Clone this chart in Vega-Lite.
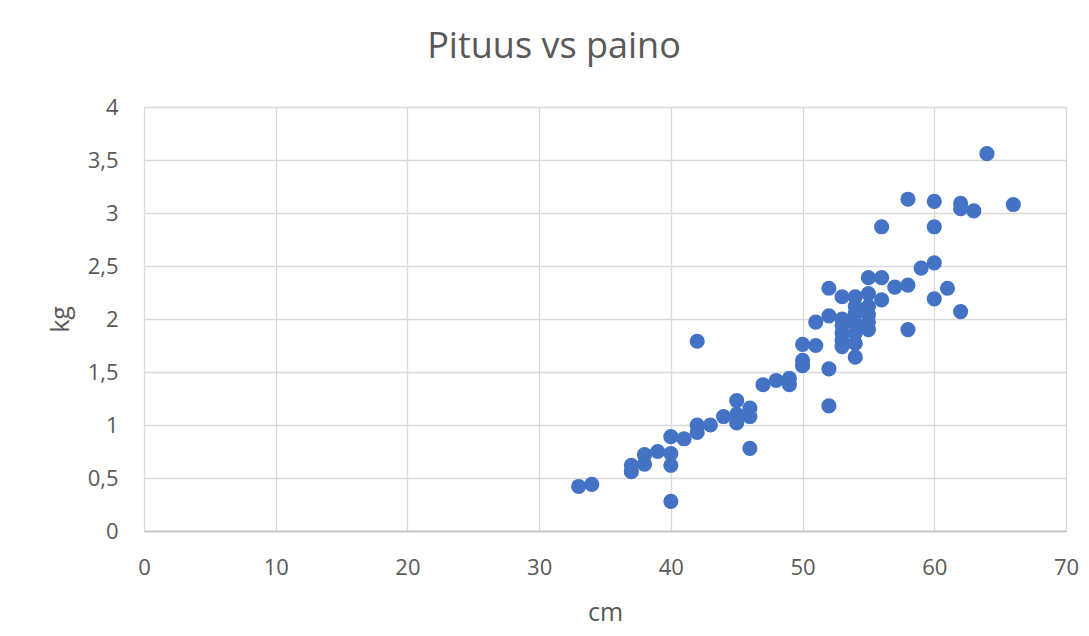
{
  "$schema": "https://vega.github.io/schema/vega-lite/v6.json",
  "autosize": {"type": "none"},
  "width": 922,
  "height": 424,
  "padding": {"left": 144, "top": 107, "right": 23, "bottom": 105},
  "background": "#ffffff",
  "title": {
    "text": "Pituus vs paino",
    "fontSize": 36,
    "font": "Open Sans",
    "fontWeight": "normal",
    "color": "#595959",
    "anchor": "middle",
    "dx": -51,
    "offset": 30
  },
  "data": {
    "values": [
      {"cm": 33, "kg": 0.42}, {"cm": 34, "kg": 0.44},
      {"cm": 37, "kg": 0.62}, {"cm": 37, "kg": 0.56},
      {"cm": 38, "kg": 0.72}, {"cm": 38, "kg": 0.63},
      {"cm": 39, "kg": 0.75},
      {"cm": 40, "kg": 0.89}, {"cm": 40, "kg": 0.73}, {"cm": 40, "kg": 0.62}, {"cm": 40, "kg": 0.28},
      {"cm": 41, "kg": 0.87},
      {"cm": 42, "kg": 1.79}, {"cm": 42, "kg": 1.0}, {"cm": 42, "kg": 0.93},
      {"cm": 43, "kg": 1.0},
      {"cm": 44, "kg": 1.08},
      {"cm": 45, "kg": 1.23}, {"cm": 45, "kg": 1.1}, {"cm": 45, "kg": 1.02},
      {"cm": 46, "kg": 1.16}, {"cm": 46, "kg": 1.08}, {"cm": 46, "kg": 0.78},
      {"cm": 47, "kg": 1.38},
      {"cm": 48, "kg": 1.42},
      {"cm": 49, "kg": 1.44}, {"cm": 49, "kg": 1.38},
      {"cm": 50, "kg": 1.76}, {"cm": 50, "kg": 1.61}, {"cm": 50, "kg": 1.56},
      {"cm": 51, "kg": 1.97}, {"cm": 51, "kg": 1.75},
      {"cm": 52, "kg": 2.29}, {"cm": 52, "kg": 2.03}, {"cm": 52, "kg": 1.53}, {"cm": 52, "kg": 1.18},
      {"cm": 53, "kg": 2.21}, {"cm": 53, "kg": 2.0}, {"cm": 53, "kg": 1.94}, {"cm": 53, "kg": 1.87}, {"cm": 53, "kg": 1.8}, {"cm": 53, "kg": 1.74},
      {"cm": 54, "kg": 2.21}, {"cm": 54, "kg": 2.12}, {"cm": 54, "kg": 2.05}, {"cm": 54, "kg": 1.96}, {"cm": 54, "kg": 1.87}, {"cm": 54, "kg": 1.77}, {"cm": 54, "kg": 1.64},
      {"cm": 55, "kg": 2.39}, {"cm": 55, "kg": 2.24}, {"cm": 55, "kg": 2.12}, {"cm": 55, "kg": 2.04}, {"cm": 55, "kg": 1.97}, {"cm": 55, "kg": 1.9},
      {"cm": 56, "kg": 2.87}, {"cm": 56, "kg": 2.39}, {"cm": 56, "kg": 2.18},
      {"cm": 57, "kg": 2.3},
      {"cm": 58, "kg": 3.13}, {"cm": 58, "kg": 2.32}, {"cm": 58, "kg": 1.9},
      {"cm": 59, "kg": 2.48},
      {"cm": 60, "kg": 3.11}, {"cm": 60, "kg": 2.87}, {"cm": 60, "kg": 2.53}, {"cm": 60, "kg": 2.19},
      {"cm": 61, "kg": 2.29},
      {"cm": 62, "kg": 3.09}, {"cm": 62, "kg": 3.04}, {"cm": 62, "kg": 2.07},
      {"cm": 63, "kg": 3.02},
      {"cm": 64, "kg": 3.56},
      {"cm": 66, "kg": 3.08}
    ]
  },
  "mark": {"type": "circle", "size": 230, "color": "#4472C4", "opacity": 1},
  "encoding": {
    "x": {
      "field": "cm", "type": "quantitative",
      "scale": {"domain": [0, 70], "nice": false, "zero": true},
      "axis": {
        "title": "cm", "values": [0, 10, 20, 30, 40, 50, 60, 70],
        "ticks": false, "labelPadding": 26, "titlePadding": 22, "labelFlush": false,
        "domainColor": "#bfbfbf", "domainWidth": 1.5
      }
    },
    "y": {
      "field": "kg", "type": "quantitative",
      "scale": {"domain": [0, 4], "nice": false},
      "axis": {
        "title": "kg", "values": [0, 0.5, 1, 1.5, 2, 2.5, 3, 3.5, 4],
        "format": ",.1~f", "ticks": false, "labelPadding": 26, "titlePadding": 14, "labelFlush": false,
        "domain": false
      }
    }
  },
  "config": {
    "locale": {"number": {"decimal": ",", "thousands": "\u00a0", "grouping": [3], "currency": ["", " €"]}},
    "view": {"stroke": null},
    "axis": {
      "labelFont": "Open Sans", "labelFontSize": 22, "labelColor": "#595959",
      "titleFont": "Open Sans", "titleFontSize": 25, "titleColor": "#595959", "titleFontWeight": "normal",
      "gridColor": "#d9d9d9", "gridWidth": 1.3
    }
  }
}
